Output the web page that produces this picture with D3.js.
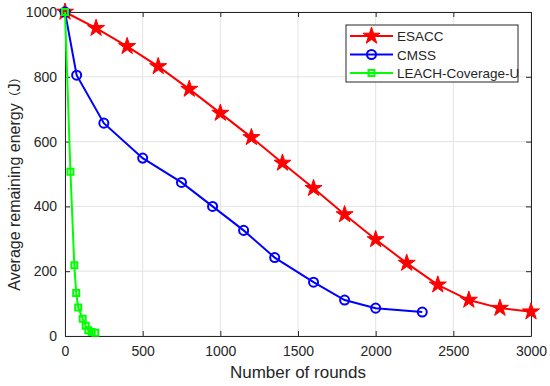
<!DOCTYPE html>
<html>
<head>
<meta charset="utf-8">
<script src="https://cdn.jsdelivr.net/npm/d3@7"></script>
<style>
  body { margin: 0; background: #fff; }
  text { font-family: "Liberation Sans", Arial, sans-serif; fill: #262626; }
</style>
</head>
<body>
<div id="chart"></div>
<script>
// data
const esaccRounds = [0, 200, 400, 600, 800, 1000, 1200, 1400, 1600, 1800, 2000, 2200, 2400, 2600, 2800, 3000];
const esaccEnergy = [1000, 950, 894, 832, 762, 688, 613, 534, 456, 375, 298, 225, 158, 111, 86, 75];

const cmssRounds = [0, 75, 250, 500, 750, 950, 1150, 1350, 1600, 1800, 2000, 2300];
const cmssEnergy = [1000, 805, 657, 549, 474, 400, 326, 242, 166, 111, 86, 74];

const leachRounds = [0, 35, 60, 72, 85, 114, 133, 150, 172, 195];
const leachEnergy = [1000, 507, 218, 133, 88, 53, 32, 18, 12, 10];

const xTicks = [0, 500, 1000, 1500, 2000, 2500, 3000];
const yTicks = [0, 200, 400, 600, 800, 1000];

const seriesNames = ["ESACC", "CMSS", "LEACH-Coverage-U"];

const width = 550, height = 386;
const margin = {top: 12, right: 19, bottom: 50, left: 65};

const svg = d3.select("#chart").append("svg")
    .attr("width", width)
    .attr("height", height);

const x = d3.scaleLinear().domain([0, 3000]).range([margin.left, width - margin.right]);
const y = d3.scaleLinear().domain([0, 1000]).range([height - margin.bottom, margin.top]);

// grid
svg.append("g")
  .selectAll("line.vg")
  .data(xTicks)
  .join("line")
    .attr("x1", d => x(d)).attr("x2", d => x(d))
    .attr("y1", y(0)).attr("y2", y(1000))
    .attr("stroke", "#e3e3e3").attr("stroke-width", 1);
svg.append("g")
  .selectAll("line.hg")
  .data(yTicks)
  .join("line")
    .attr("x1", x(0)).attr("x2", x(3000))
    .attr("y1", d => y(d)).attr("y2", d => y(d))
    .attr("stroke", "#e3e3e3").attr("stroke-width", 1);

// axes, ticks pointing inwards
const fmt = d3.format("d");
const xAxis = svg.append("g")
    .attr("transform", `translate(0,${y(0)})`)
    .call(d3.axisBottom(x).tickValues(xTicks).tickFormat(fmt).tickSizeInner(-5).tickSizeOuter(0).tickPadding(10));
const yAxis = svg.append("g")
    .attr("transform", `translate(${x(0)},0)`)
    .call(d3.axisLeft(y).tickValues(yTicks).tickFormat(fmt).tickSizeInner(-5).tickSizeOuter(0).tickPadding(8));
const xTop = svg.append("g")
    .attr("transform", `translate(0,${y(1000)})`)
    .call(d3.axisTop(x).tickValues(xTicks).tickSizeInner(-5).tickSizeOuter(0).tickFormat(""));
const yRight = svg.append("g")
    .attr("transform", `translate(${x(3000)},0)`)
    .call(d3.axisRight(y).tickValues(yTicks).tickSizeInner(-5).tickSizeOuter(0).tickFormat(""));

[xAxis, yAxis, xTop, yRight].forEach(g => {
    g.selectAll("path.domain").attr("stroke", "#262626").attr("stroke-width", 1);
    g.selectAll(".tick line").attr("stroke", "#262626");
    g.selectAll(".tick text")
      .style("font-family", "'Liberation Sans', Arial, sans-serif")
      .style("font-size", "14px")
      .attr("fill", "#262626");
});

// axis titles
svg.append("text")
    .attr("x", (x(0) + x(3000)) / 2)
    .attr("y", 378)
    .attr("text-anchor", "middle")
    .style("font-size", "17px")
    .text("Number of rounds");
const yTitle = svg.append("text")
    .attr("transform", "translate(20,181) rotate(-90)")
    .attr("text-anchor", "middle")
    .style("font-size", "16px");
yTitle.append("tspan").text("Average remaining energy");
yTitle.append("tspan")
    .style("font-family", "'Noto Sans CJK SC', sans-serif").style("font-size", "12px")
    .text("（");
yTitle.append("tspan").text("J");
yTitle.append("tspan")
    .style("font-family", "'Noto Sans CJK SC', sans-serif").style("font-size", "12px")
    .text("）");

const line = d3.line().x(d => x(d[0])).y(d => y(d[1]));

const star = d3.symbol().type(d3.symbolStar).size(90);
const circle = d3.symbol().type(d3.symbolCircle).size(64);
const square = d3.symbol().type(d3.symbolSquare).size(36);

const series = [
    {name: seriesNames[0], rounds: esaccRounds, energy: esaccEnergy, color: "#ff0000", marker: star, filled: true},
    {name: seriesNames[1], rounds: cmssRounds, energy: cmssEnergy, color: "#0000ff", marker: circle, filled: false},
    {name: seriesNames[2], rounds: leachRounds, energy: leachEnergy, color: "#00ff00", marker: square, filled: false}
];

series.forEach(s => {
    const pts = s.rounds.map((r, i) => [r, s.energy[i]]);
    svg.append("path")
        .datum(pts)
        .attr("d", line)
        .attr("fill", "none")
        .attr("stroke", s.color)
        .attr("stroke-width", 2);
    svg.append("g")
      .selectAll("path")
      .data(pts)
      .join("path")
        .attr("transform", d => `translate(${x(d[0])},${y(d[1])})`)
        .attr("d", s.marker)
        .attr("fill", s.filled ? s.color : "none")
        .attr("stroke", s.color)
        .attr("stroke-width", s.filled ? 1 : 2);
});

// legend
const legend = svg.append("g").attr("transform", "translate(346,25)");
legend.append("rect")
    .attr("width", 172).attr("height", 57)
    .attr("fill", "#fff").attr("stroke", "#262626").attr("stroke-width", 1);
series.forEach((s, i) => {
    const ly = 11 + i * 18.5;
    legend.append("line")
        .attr("x1", 4).attr("x2", 47).attr("y1", ly).attr("y2", ly)
        .attr("stroke", s.color).attr("stroke-width", 2);
    legend.append("path")
        .attr("transform", `translate(25.5,${ly})`)
        .attr("d", s.marker)
        .attr("fill", s.filled ? s.color : "none")
        .attr("stroke", s.color)
        .attr("stroke-width", s.filled ? 1 : 2);
    legend.append("text")
        .attr("x", 51).attr("y", ly + 5)
        .style("font-size", "13.5px")
        .text(s.name);
});
</script>
</body>
</html>
